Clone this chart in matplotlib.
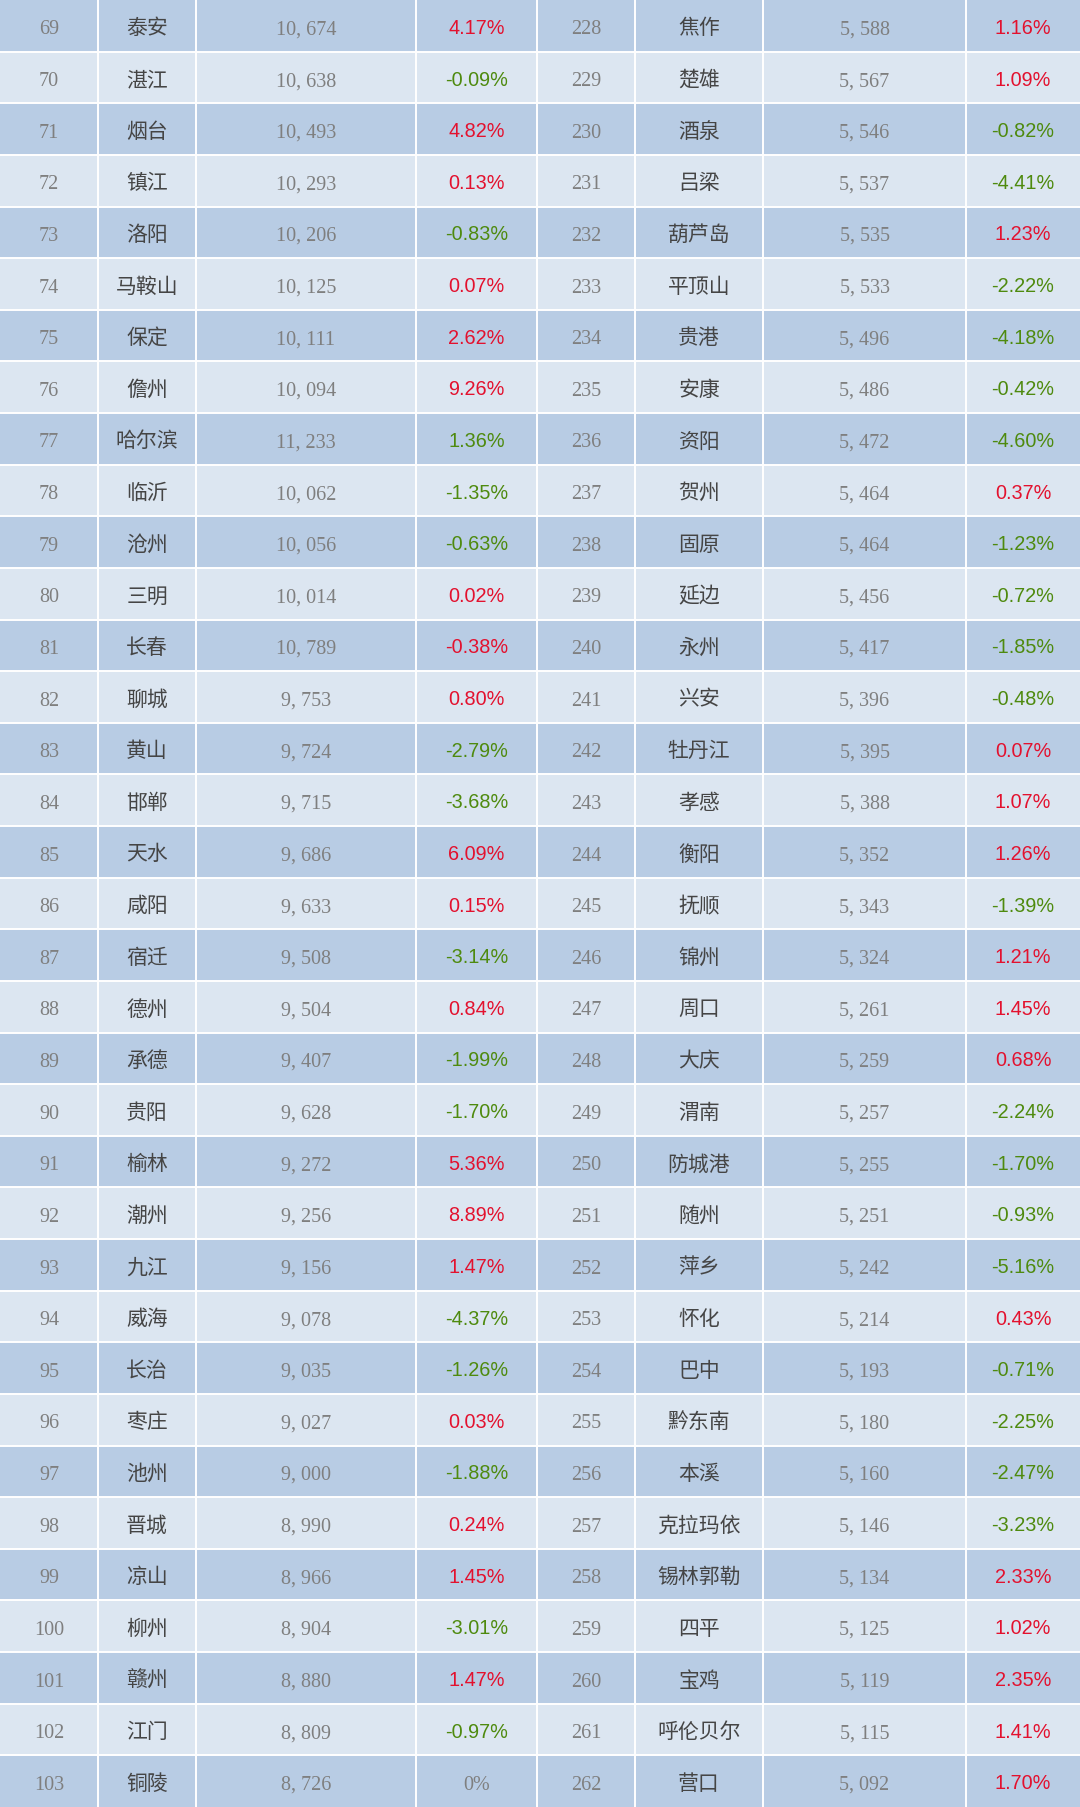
import matplotlib
matplotlib.use("Agg")
import matplotlib.pyplot as plt
from matplotlib.patches import Rectangle

# ---------------- data ----------------
left_rank = list(range(69, 104))
left_city = ["泰安", "湛江", "烟台", "镇江", "洛阳", "马鞍山", "保定", "儋州", "哈尔滨", "临沂",
             "沧州", "三明", "长春", "聊城", "黄山", "邯郸", "天水", "咸阳", "宿迁", "德州",
             "承德", "贵阳", "榆林", "潮州", "九江", "威海", "长治", "枣庄", "池州", "晋城",
             "凉山", "柳州", "赣州", "江门", "铜陵"]
left_value = [10674, 10638, 10493, 10293, 10206, 10125, 10111, 10094, 11233, 10062,
              10056, 10014, 10789, 9753, 9724, 9715, 9686, 9633, 9508, 9504,
              9407, 9628, 9272, 9256, 9156, 9078, 9035, 9027, 9000, 8990,
              8966, 8904, 8880, 8809, 8726]
left_change = [4.17, -0.09, 4.82, 0.13, -0.83, 0.07, 2.62, 9.26, 1.36, -1.35,
               -0.63, 0.02, -0.38, 0.80, -2.79, -3.68, 6.09, 0.15, -3.14, 0.84,
               -1.99, -1.70, 5.36, 8.89, 1.47, -4.37, -1.26, 0.03, -1.88, 0.24,
               1.45, -3.01, 1.47, -0.97, 0.0]
# trend marker shown by colour: 1 = up (red), -1 = down (green), 0 = flat
left_trend = [1, -1, 1, 1, -1, 1, 1, 1, -1, -1,
              -1, 1, 1, 1, -1, -1, 1, 1, -1, 1,
              -1, -1, 1, 1, 1, -1, -1, 1, -1, 1,
              1, -1, 1, -1, 0]

right_rank = list(range(228, 263))
right_city = ["焦作", "楚雄", "酒泉", "吕梁", "葫芦岛", "平顶山", "贵港", "安康", "资阳", "贺州",
              "固原", "延边", "永州", "兴安", "牡丹江", "孝感", "衡阳", "抚顺", "锦州", "周口",
              "大庆", "渭南", "防城港", "随州", "萍乡", "怀化", "巴中", "黔东南", "本溪", "克拉玛依",
              "锡林郭勒", "四平", "宝鸡", "呼伦贝尔", "营口"]
right_value = [5588, 5567, 5546, 5537, 5535, 5533, 5496, 5486, 5472, 5464,
               5464, 5456, 5417, 5396, 5395, 5388, 5352, 5343, 5324, 5261,
               5259, 5257, 5255, 5251, 5242, 5214, 5193, 5180, 5160, 5146,
               5134, 5125, 5119, 5115, 5092]
right_change = [1.16, 1.09, -0.82, -4.41, 1.23, -2.22, -4.18, -0.42, -4.60, 0.37,
                -1.23, -0.72, -1.85, -0.48, 0.07, 1.07, 1.26, -1.39, 1.21, 1.45,
                0.68, -2.24, -1.70, -0.93, -5.16, 0.43, -0.71, -2.25, -2.47, -3.23,
                2.33, 1.02, 2.35, 1.41, 1.70]
right_trend = [1 if c > 0 else (-1 if c < 0 else 0) for c in right_change]

# ---------------- style ----------------
W, H = 1080, 1807
col_edges = [0, 98, 196, 416, 537, 635, 763, 966, 1080]
DARK = "#B8CCE4"
LIGHT = "#DCE6F1"
RED = "#E3112E"
GREEN = "#4E8A0E"
GRAY = "#7F7F7F"
CITY = "#454545"
CJK = ["Noto Sans CJK SC", "DejaVu Sans"]
SERIF = ["Liberation Serif", "DejaVu Serif"]
SANS = ["Liberation Sans", "DejaVu Sans"]

fig = plt.figure(figsize=(W / 100, H / 100), dpi=100)
ax = fig.add_axes([0, 0, 1, 1])
ax.set_xlim(0, W)
nrows = len(left_rank)
ax.set_ylim(nrows, 0)
ax.axis("off")

# row backgrounds
for i in range(nrows):
    ax.add_patch(Rectangle((0, i), W, 1, facecolor=DARK if i % 2 == 0 else LIGHT,
                           edgecolor="none", zorder=0))
# grid lines
for i in range(1, nrows):
    ax.axhline(i, color="white", lw=1.4, zorder=1)
for x in col_edges[1:-1]:
    ax.axvline(x, color="white", lw=1.4, zorder=1)


def centre(c):
    return (col_edges[c] + col_edges[c + 1]) / 2


def fmt_num(v):
    return f"{v:,}".replace(",", ", ")


def draw_half(c0, ranks, cities, values, changes, trends):
    for i in range(nrows):
        y = i + 0.55
        ys = i + 0.58
        ax.text(centre(c0), ys, str(ranks[i]), ha="center", va="center",
                fontsize=14.5, color=GRAY, family=SERIF)
        ax.text(centre(c0 + 1), y, cities[i], ha="center", va="center",
                fontsize=15, color=CITY, family=CJK)
        ax.text(centre(c0 + 2), ys, fmt_num(values[i]), ha="center", va="center",
                fontsize=14.5, color=GRAY, family=SERIF)
        t = trends[i]
        if t == 0 and changes[i] == 0:
            ax.text(centre(c0 + 3), ys, "0%", ha="center", va="center",
                    fontsize=14.5, color=GRAY, family=SERIF)
        else:
            ax.text(centre(c0 + 3), y, f"{changes[i]:.2f}%", ha="center", va="center",
                    fontsize=14.3, color=RED if t > 0 else GREEN, family=SANS)


draw_half(0, left_rank, left_city, left_value, left_change, left_trend)
draw_half(4, right_rank, right_city, right_value, right_change, right_trend)

fig.savefig("out.png", dpi=100)
